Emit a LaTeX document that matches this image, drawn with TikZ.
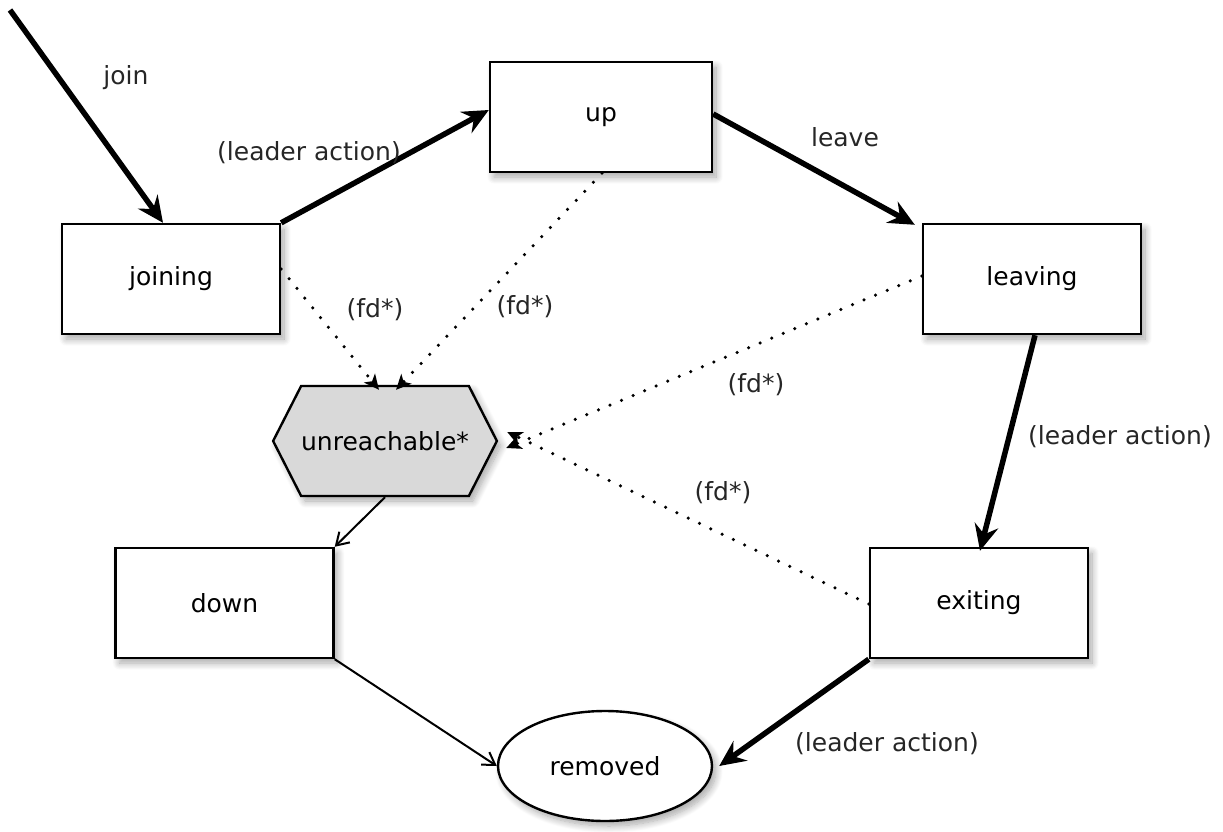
\documentclass[tikz,border=0pt]{standalone}
\usepackage{fontspec}
\setmainfont{DejaVu Sans}
\usetikzlibrary{arrows.meta,shapes.geometric,shapes.symbols,shadows.blur}
\begin{document}
\begin{tikzpicture}[x=1pt,y=-1pt,
  font=\fontsize{25}{29}\selectfont,
  shad/.style={blur shadow={shadow blur steps=10,shadow xshift=4pt,shadow yshift=-5pt,shadow blur radius=7pt,shadow opacity=35}},
  state/.style={draw,line width=2.4pt,fill=white,minimum width=218pt,minimum height=110pt,shad},
  thick arr/.style={line width=5.5pt,-{Stealth[length=26pt,width=24pt,inset=9pt]}},
  thin arr/.style={line width=2pt,-{Straight Barb[length=12pt,width=15pt]}},
  dot arr/.style={line width=3.5pt,line cap=round,dash pattern=on 0pt off 12.5pt,-{Stealth[length=15pt,width=14pt,inset=4pt]}},
  lbl/.style={text=black!85}]
\useasboundingbox (0,0) rectangle (1223,832);
\node[state] (joining) at (171,279) {joining};
\node[state,minimum width=222pt] (up) at (601,117) {up};
\node[state] (leaving) at (1032,279) {leaving};
\node[state] (down) at (224.5,603) {down};
\node[state] (exiting) at (979,603) {exiting};
\node[draw,line width=2.4pt,fill=black!15,shape=signal,signal to=east and west,signal pointer angle=126,minimum width=220pt,minimum height=110pt,inner sep=0pt,shad] (unr) at (385,441) {unreachable*};
\node[draw,line width=2.4pt,fill=white,ellipse,minimum width=214pt,minimum height=110pt,shad] (removed) at (605,766) {removed};
\coordinate (start) at (10,10);
% thick
\draw[thick arr] (start) -- ([xshift=-8pt]joining.north);
\draw[thick arr] (joining.north east) -- ([yshift=7pt]up.west);
\draw[thick arr] ([yshift=3pt]up.east) -- ([xshift=-7pt,yshift=-2pt]leaving.north west);
\draw[thick arr] ([xshift=3pt]leaving.south) -- ([xshift=1pt,yshift=-4pt]exiting.north);
\draw[thick arr] (exiting.south west) -- ([xshift=6pt]removed.east);
% thin
\draw[thin arr] (unr.south) -- (down.north east);
\draw[thin arr] (down.south east) -- (removed.west);
% dotted
\draw[dot arr] ([yshift=10pt]joining.east) -- ([xshift=-6pt,yshift=-5pt]unr.north);
\draw[dot arr] ([xshift=1pt]up.south) -- ([xshift=11pt,yshift=-5pt]unr.north);
\draw[dot arr] ([yshift=3pt]leaving.west) -- ([xshift=8pt,yshift=-7pt]unr.east);
\draw[dot arr] ([yshift=-1pt]exiting.west) -- ([xshift=9pt,yshift=9pt]unr.east);
% labels
\node[lbl] at (126,78) {join};
\node[lbl] at (309,153) {(leader action)};
\node[lbl] at (845,137) {leave};
\node[lbl] at (1120,437) {(leader action)};
\node[lbl] at (887,744) {(leader action)};
\node[lbl] at (375,310) {(fd*)};
\node[lbl] at (525,307) {(fd*)};
\node[lbl] at (756,385) {(fd*)};
\node[lbl] at (723,493) {(fd*)};
\end{tikzpicture}
\end{document}
